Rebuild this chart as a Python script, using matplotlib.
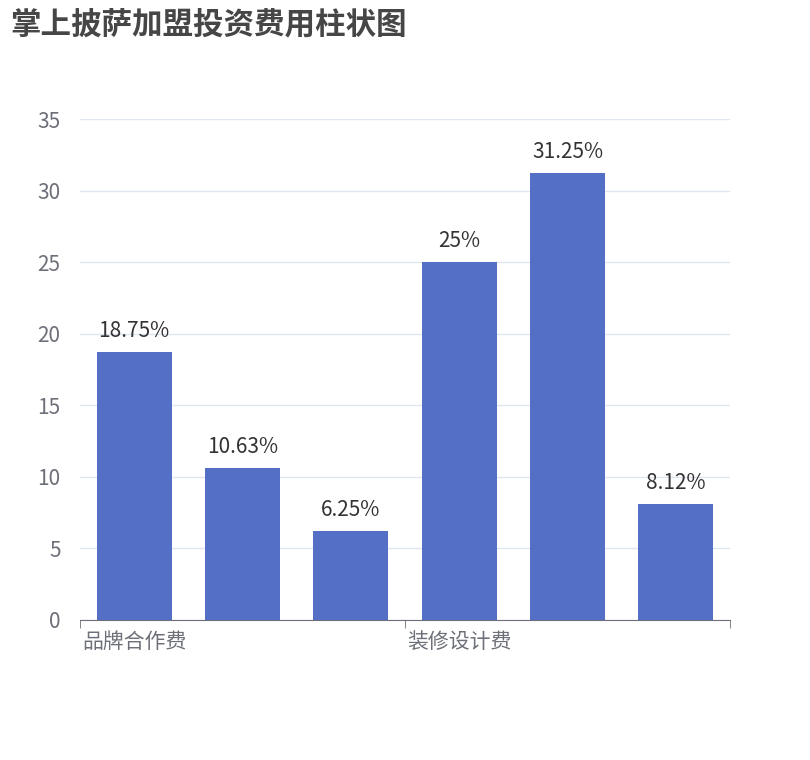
import matplotlib
matplotlib.use("Agg")
import matplotlib.pyplot as plt

plt.rcParams['font.family'] = ['Noto Sans CJK SC', 'DejaVu Sans']

categories = ["品牌合作费", "加盟费", "保证金", "装修设计费", "设备费", "首批进货费"]
values = [18.75, 10.63, 6.25, 25, 31.25, 8.12]
labels = ["18.75%", "10.63%", "6.25%", "25%", "31.25%", "8.12%"]
shown_ticks = [0, 3]
yticks = [0, 5, 10, 15, 20, 25, 30, 35]

fig = plt.figure(figsize=(8.1, 7.6), dpi=100)
ax = fig.add_axes([80/810, 140/760, 650/810, 501/760])
x = list(range(len(categories)))
ax.bar(x, values, width=0.69, color="#5470c6", zorder=3)
for xi, v, lab in zip(x, values, labels):
    ax.text(xi, v + 0.7, lab, ha="center", va="bottom", fontsize=15, color="#333333")
ax.set_xlim(-0.5, len(categories) - 0.5)
ax.set_ylim(0, 35)
ax.set_yticks(yticks)
ax.set_yticklabels([str(t) for t in yticks], fontsize=15, color="#6e7079")
ax.yaxis.grid(True, color="#e0e6f1", linewidth=1, zorder=0)
ax.tick_params(axis="y", length=0, pad=14)
ax.set_xticks([x[i] for i in shown_ticks])
ax.set_xticklabels([categories[i] for i in shown_ticks], fontsize=15, color="#6e7079")
ax.tick_params(axis="x", length=0, pad=8)
ax.set_xticks([-0.5, 2.5, 5.5], minor=True)
ax.tick_params(axis="x", which="minor", length=6, color="#6e7079", direction="out")
for s in ["top", "right", "left"]:
    ax.spines[s].set_visible(False)
ax.spines["bottom"].set_color("#6e7079")
fig.text(10/810, 1 - 24/760, "掌上披萨加盟投资费用柱状图", fontsize=22, fontweight="bold",
         color="#464646", va="center", ha="left")
fig.savefig("out.png", dpi=100)
